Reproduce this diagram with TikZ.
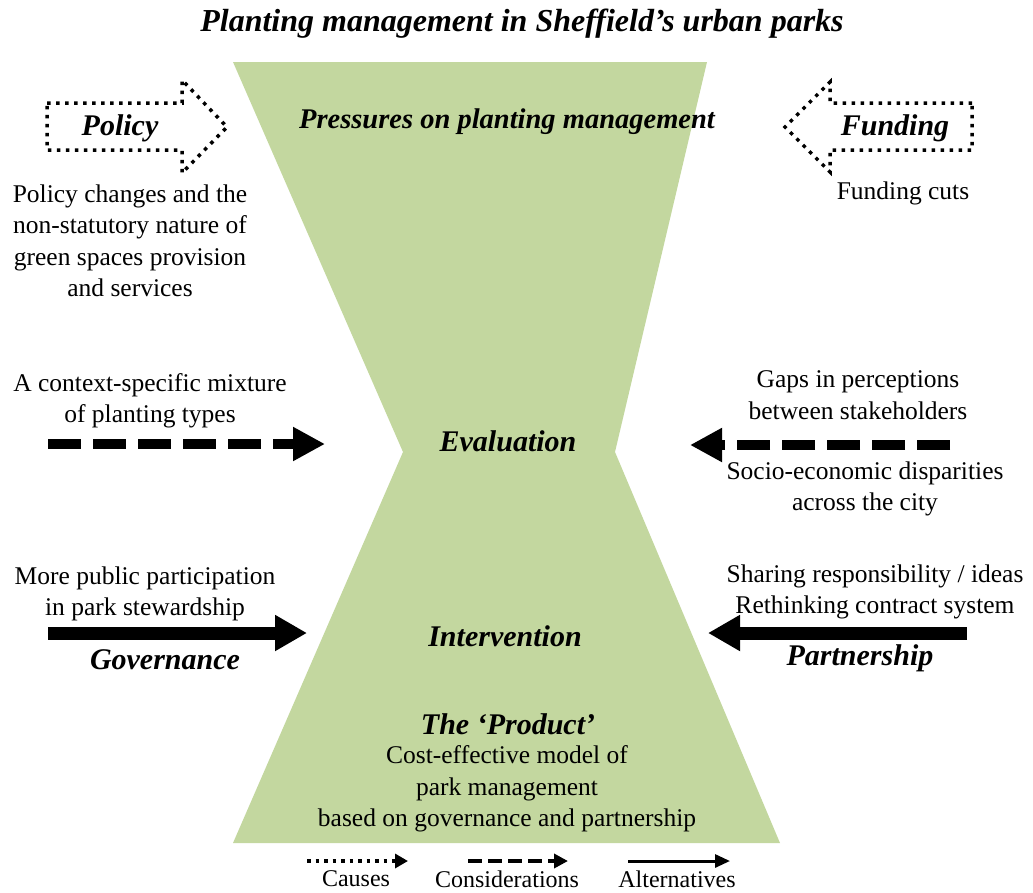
\documentclass[tikz,border=0pt]{standalone}
\usepackage{fontspec}
\setmainfont{Liberation Serif}
\usetikzlibrary{arrows.meta}
\definecolor{hg}{RGB}{195,215,159}
\begin{document}
\begin{tikzpicture}[x=1pt,y=-1pt,
  body/.style={font=\fontsize{25.5}{31.5}\selectfont, align=center, inner sep=0pt},
  head/.style={font=\fontsize{30}{34}\selectfont\bfseries\itshape, inner sep=0pt},
  blockarrow/.style={draw, line width=3.5pt, dash pattern=on 3.5pt off 5.5pt},
  dasharrow/.style={line width=10pt, dash pattern=on 33pt off 12pt, -{Triangle[length=32pt,width=32pt]}},
  solidarrow/.style={line width=13pt, -{Triangle[length=32pt,width=34pt]}},
  legdot/.style={line width=3.5pt, dash pattern=on 3.5pt off 5pt, -{Triangle[length=13pt,width=14pt]}},
  legdash/.style={line width=3.5pt, dash pattern=on 14pt off 6pt, -{Triangle[length=14pt,width=14pt]}},
  legsolid/.style={line width=3pt, -{Triangle[length=15pt,width=13pt]}}
  ]
\useasboundingbox (0,0) rectangle (1033,892);
% hourglass
\fill[hg] (233,62) -- (707,62) -- (615,452) -- (780,843) -- (233,843) -- (403,452) -- cycle;

% title
\node[head, font=\fontsize{32}{36}\selectfont\bfseries\itshape] (title) at (522,24) {Planting management in Sheffield's urban parks};
\node[head, font=\fontsize{28.5}{32}\selectfont\bfseries\itshape] (press) at (507,122) {Pressures on planting management};

% block arrows
\draw[blockarrow] (47,103) -- (182,103) -- (182,80) -- (227,127) -- (182,173) -- (182,150) -- (47,150) -- cycle;
\draw[blockarrow] (972,103) -- (830,103) -- (830,82) -- (785,127) -- (830,172) -- (830,150) -- (972,150) -- cycle;
\node[head] (policy) at (120,128) {Policy};
\node[head] (funding) at (895,128) {Funding};

\node[body] (policytxt) at (130,241) {Policy changes and the\\non-statutory nature of\\green spaces provision\\and services};
\node[body] (fundtxt) at (903,193) {Funding cuts};

% evaluation row
\node[body] (mix) at (150,401) {A context-specific mixture\\of planting types};
\node[body] (gaps) at (858,395) {Gaps in perceptions\\between stakeholders};
\node[body] (socio) at (865,489) {Socio-economic disparities\\across the city};
\node[head] (eval) at (508,441) {Evaluation};
\coordinate (mixS) at (48,444);
\coordinate (mixE) at (325,444);
\coordinate (gapS) at (950,445);
\coordinate (gapE) at (690,445);
\draw[dasharrow] (mixS) -- (mixE);
\draw[dasharrow] (gapS) -- (gapE);

% intervention row
\node[body] (public) at (145,594) {More public participation\\in park stewardship};
\node[head] (gov) at (165,660) {Governance};
\node[body] (share) at (875,592) {Sharing responsibility / ideas\\Rethinking contract system};
\node[head] (part) at (860,658) {Partnership};
\node[head] (interv) at (505,636) {Intervention};
\coordinate (govS) at (48,633);
\coordinate (govE) at (307,633);
\coordinate (partS) at (967,633);
\coordinate (partE) at (708,633);
\draw[solidarrow] (govS) -- (govE);
\draw[solidarrow] (partS) -- (partE);

% product
\node[head] (prod) at (508,724) {The `Product'};
\node[body] (model) at (507,789) {Cost-effective model of\\park management\\based on governance and partnership};

% legend
\coordinate (l1s) at (307,861);
\coordinate (l1e) at (408,861);
\coordinate (l2s) at (468,861);
\coordinate (l2e) at (568,861);
\coordinate (l3s) at (628,861);
\coordinate (l3e) at (730,861);
\draw[legdot] (l1s) -- (l1e);
\draw[legdash] (l2s) -- (l2e);
\draw[legsolid] (l3s) -- (l3e);
\node[body, font=\fontsize{24}{28}\selectfont] (causes) at (356,879) {Causes};
\node[body, font=\fontsize{24}{28}\selectfont] (consid) at (507,879) {Considerations};
\node[body, font=\fontsize{24}{28}\selectfont] (alt) at (677,879) {Alternatives};
\end{tikzpicture}
\end{document}
